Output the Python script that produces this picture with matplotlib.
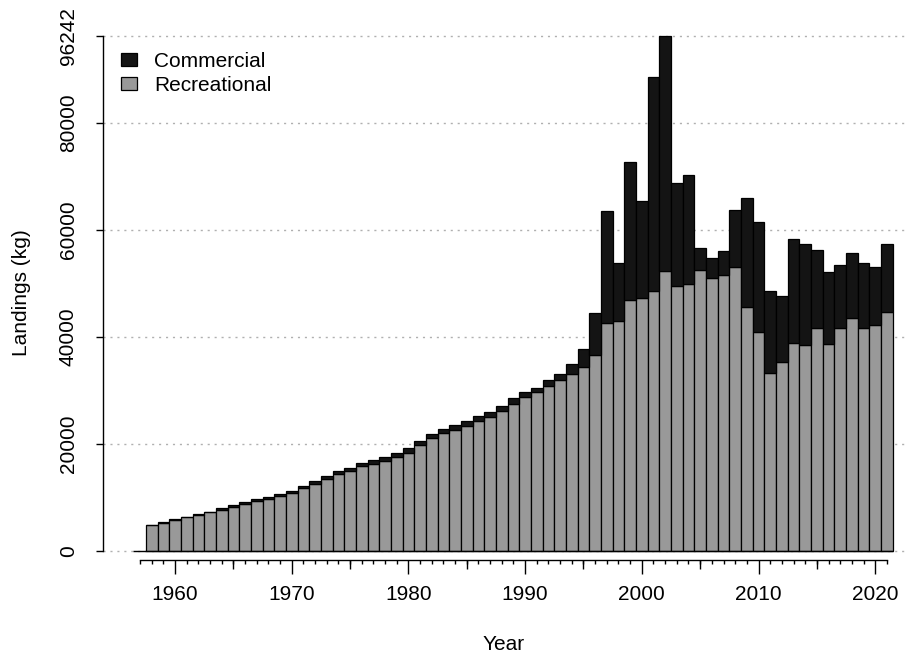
import numpy as np
import matplotlib
matplotlib.use('Agg')
import matplotlib.pyplot as plt
from matplotlib.patches import Patch

plt.rcParams['font.family'] = ['Liberation Sans', 'DejaVu Sans']

years = np.arange(1958, 2022)

# landings in kg
recreational = [4810, 5310, 5840, 6320, 6800, 7200, 7730, 8290, 8800, 9360,
                9750, 10200, 10850, 11700, 12600, 13450, 14350, 15000, 15800, 16300,
                16900, 17600, 18400, 19800, 21100, 22000, 22600, 23400, 24300, 25100,
                26200, 27500, 28700, 29700, 30800, 32000, 33000, 34300, 36600, 42700,
                42900, 46900, 47350, 48650, 52400, 49600, 49900, 52500, 51000, 51500,
                53000, 45550, 40900, 33300, 35400, 38800, 38450, 41700, 38700, 41700,
                43550, 41700, 42300, 44700]
commercial = [50, 50, 80, 100, 120, 150, 250, 250, 300, 300,
              350, 400, 450, 500, 500, 550, 550, 600, 600, 650,
              650, 750, 800, 750, 850, 850, 950, 900, 950, 950,
              950, 1050, 950, 850, 1250, 1150, 1950, 3450, 7900, 20900,
              11000, 25900, 18050, 39950, 43842, 19100, 20300, 4200, 3800, 4500,
              10700, 20450, 20650, 15350, 12200, 19600, 18950, 14600, 13400, 11750,
              12200, 12100, 10700, 12600]

ytick_vals = [0, 20000, 40000, 60000, 80000, 96242]
xtick_major = [1960, 1970, 1980, 1990, 2000, 2010, 2020]
xtick_mid = [1965, 1975, 1985, 1995, 2005, 2015]

rec_col = '#999999'
com_col = '#141414'
fs = 15

fig = plt.figure(figsize=(9.15, 6.56), dpi=100)
W, H = 915, 656
ax = fig.add_axes([103 / W, (H - 560) / H, (905 - 103) / W, (560 - 30) / H])

px_year = 11.67
x0 = 1957 - (140 - 103) / px_year
x1 = 1957 + (905 - 140) / px_year
ax.set_xlim(x0, x1)
px_k = 5.35 / 1000
ax.set_ylim(-(560 - 551) / px_k, (551 - 30) / px_k)

# grid
for v in ytick_vals:
    ax.axhline(v, color='#b0b0b0', lw=1, ls=(0, (1.5, 3.5)), zorder=0)

ax.bar(years, recreational, width=1.0, color=rec_col, edgecolor='black', lw=0.9, zorder=2)
ax.bar(years, commercial, width=1.0, bottom=recreational, color=com_col,
       edgecolor='black', lw=0.9, zorder=2)
ax.hlines(0, 1956.4, years[-1] + 0.5, color='black', lw=1.0, zorder=3)

for s in ['top', 'right']:
    ax.spines[s].set_visible(False)
ax.spines['left'].set_bounds(0, 96242)
ax.spines['bottom'].set_bounds(1957, 2021)
ax.spines['left'].set_linewidth(1)
ax.spines['bottom'].set_linewidth(1)

ax.set_yticks(ytick_vals)
ax.set_yticklabels([str(v) for v in ytick_vals], rotation=90, va='center', fontsize=fs)
ax.tick_params(axis='y', length=5, width=1, pad=13)

ax.set_xticks(xtick_major)
ax.set_xticklabels([str(v) for v in xtick_major], fontsize=fs)
ax.set_xticks(np.arange(1957, 2022), minor=True)
ax.tick_params(axis='x', which='major', length=10, width=1, pad=8)
ax.tick_params(axis='x', which='minor', length=3, width=1)

sec = ax.secondary_xaxis('bottom')
sec.set_xticks(xtick_mid)
sec.set_xticklabels([])
sec.tick_params(length=6.8, width=1)
sec.spines['bottom'].set_visible(False)

ax.set_xlabel('Year', fontsize=fs, labelpad=22)
fig.text(22 / W, 1 - 293 / H, 'Landings (kg)', rotation=90, ha='center', va='center', fontsize=fs)

handles = [Patch(facecolor=com_col, edgecolor='black', lw=0.9, label='Commercial'),
           Patch(facecolor=rec_col, edgecolor='black', lw=0.9, label='Recreational')]
ax.legend(handles=handles, loc='upper left', bbox_to_anchor=(121 / W, 1 - 52 / H),
          bbox_transform=fig.transFigure, frameon=False, fontsize=fs,
          handlelength=0.75, handleheight=0.6, handletextpad=0.85, labelspacing=0.25,
          borderpad=0, borderaxespad=0)

fig.savefig('out.png', dpi=100)
